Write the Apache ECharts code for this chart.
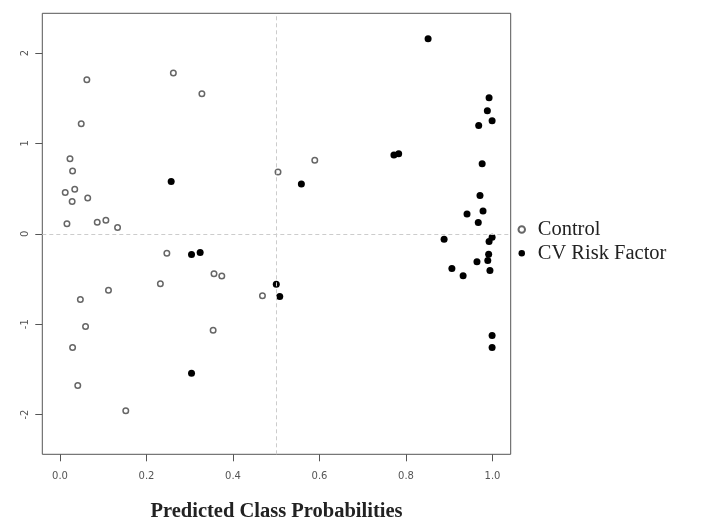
<!DOCTYPE html>
<html>
<head>
<meta charset="utf-8">
<script src="https://cdn.jsdelivr.net/npm/echarts@6/dist/echarts.min.js"></script>
<style>html,body{margin:0;padding:0;background:#fff}#c{width:703px;height:530px}</style>
</head>
<body>
<div id="c"></div>
<script>
// Data: [predicted probability, score]
var controlPoints = [
  [0.062, 1.704], [0.262, 1.778], [0.328, 1.549], [0.049, 1.217],
  [0.023, 0.830], [0.029, 0.694], [0.504, 0.683], [0.012, 0.457],
  [0.034, 0.494], [0.028, 0.358], [0.064, 0.395], [0.016, 0.111],
  [0.086, 0.129], [0.106, 0.151], [0.133, 0.070], [0.589, 0.815],
  [0.247, -0.214], [0.356, -0.443], [0.374, -0.468], [0.232, -0.553],
  [0.112, -0.624], [0.047, -0.727], [0.468, -0.686], [0.059, -1.026],
  [0.354, -1.066], [0.029, -1.258], [0.041, -1.679], [0.152, -1.959]
];
var cvRiskPoints = [
  [0.257, 0.579], [0.304, -0.229], [0.324, -0.207], [0.500, -0.557],
  [0.508, -0.694], [0.304, -1.542], [0.558, 0.550], [0.851, 2.158],
  [0.992, 1.505], [0.988, 1.361], [0.999, 1.251], [0.968, 1.199],
  [0.772, 0.871], [0.783, 0.885], [0.976, 0.775], [0.971, 0.424],
  [0.978, 0.251], [0.941, 0.218], [0.967, 0.125], [0.888, -0.059],
  [0.999, -0.037], [0.992, -0.085], [0.991, -0.225], [0.989, -0.295],
  [0.964, -0.310], [0.994, -0.406], [0.906, -0.384], [0.932, -0.465],
  [0.999, -1.125], [0.999, -1.258]
];
var seriesNames = ['Control', 'CV Risk Factor'];
var xTicks = [0, 0.2, 0.4, 0.6, 0.8, 1.0];
var yTicks = [-2, -1, 0, 1, 2];
var xTitle = 'Predicted Class Probabilities';

var chart = echarts.init(document.getElementById('c'), null, {renderer: 'canvas'});
var tickColor = '#555';
chart.setOption({
  backgroundColor: '#fff',
  animation: false,
  grid: {left: 42.3, right: 192.3, top: 13.3, bottom: 75.7, show: true,
         borderColor: '#555', borderWidth: 1, backgroundColor: 'transparent'},
  legend: {
    orient: 'vertical', left: 512.5, top: 214,
    itemWidth: 22, itemHeight: 6.5, itemGap: 2.7,
    textStyle: {fontFamily: 'Liberation Serif', fontSize: 20.5, color: '#222', lineHeight: 21},
    data: seriesNames
  },
  xAxis: {
    type: 'value', min: -0.041, max: 1.042,
    splitLine: {show: false},
    axisLine: {show: false, onZero: false},
    axisTick: {show: true, length: 7, lineStyle: {color: tickColor}, customValues: xTicks},
    axisLabel: {customValues: xTicks, margin: 17, fontSize: 10, color: '#555',
                fontFamily: 'DejaVu Sans',
                formatter: function (v) { return v.toFixed(1); }},
    name: xTitle, nameLocation: 'middle', nameGap: 47,
    nameTextStyle: {fontFamily: 'Liberation Serif', fontWeight: 'bold', fontSize: 20.5, color: '#222'}
  },
  yAxis: {
    type: 'value', min: -2.44, max: 2.44,
    splitLine: {show: false},
    axisLine: {show: false, onZero: false},
    axisTick: {show: true, length: 7, lineStyle: {color: tickColor}, customValues: yTicks},
    axisLabel: {customValues: yTicks, rotate: 90, margin: 12, fontSize: 10, color: '#555',
                fontFamily: 'DejaVu Sans',
                formatter: function (v) { return String(v); }}
  },
  series: [
    {
      name: seriesNames[0], type: 'scatter', data: controlPoints,
      symbol: 'circle', symbolSize: 5.5,
      itemStyle: {color: '#fff', borderColor: '#666', borderWidth: 1.5, opacity: 1},
      markLine: {
        silent: true, symbol: 'none', label: {show: false},
        lineStyle: {color: '#ccc', type: [4, 3], width: 1},
        data: [{xAxis: 0.5}, {yAxis: 0}]
      },
      z: 3
    },
    {
      name: seriesNames[1], type: 'scatter', data: cvRiskPoints,
      symbol: 'circle', symbolSize: 7,
      itemStyle: {color: '#000', opacity: 1},
      z: 4
    }
  ]
});
</script>
</body>
</html>
